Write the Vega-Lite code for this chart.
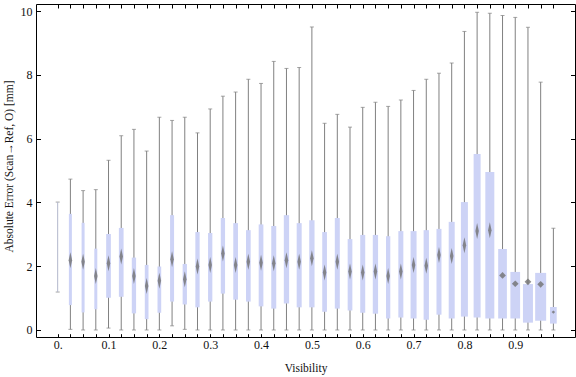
{
  "$schema": "https://vega.github.io/schema/vega-lite/v6.json",
  "width": 539,
  "height": 333,
  "autosize": {"type": "none"},
  "padding": {"left": 36, "top": 4, "right": 1, "bottom": 40},
  "background": "white",
  "config": {
    "view": {"stroke": "black", "strokeWidth": 1},
    "axis": {"grid": false, "domain": false, "ticks": true, "tickColor": "black", "tickWidth": 1, "labelFont": "Liberation Serif", "titleFont": "Liberation Serif", "labelColor": "#111", "titleColor": "#111", "labelFontSize": 12, "titleFontSize": 11.5, "titleFontWeight": "normal", "labelOverlap": false, "labelFlush": false}
  },
  "data": {
    "values": [
      {"v": 0, "lo": 1.19, "q1": null, "mid": null, "q3": null, "hi": 4.01, "n": 0},
      {"v": 0.025, "lo": 0.02, "q1": 0.78, "mid": 2.19, "q3": 3.64, "hi": 4.73, "n": 30},
      {"v": 0.05, "lo": 0, "q1": 0.55, "mid": 2.14, "q3": 3.36, "hi": 4.37, "n": 30},
      {"v": 0.075, "lo": 0, "q1": 0.65, "mid": 1.69, "q3": 2.55, "hi": 4.40, "n": 30},
      {"v": 0.1, "lo": 0.06, "q1": 1.01, "mid": 2.09, "q3": 3.01, "hi": 5.32, "n": 47},
      {"v": 0.125, "lo": 0, "q1": 1.04, "mid": 2.30, "q3": 3.20, "hi": 6.09, "n": 47},
      {"v": 0.15, "lo": 0, "q1": 0.52, "mid": 1.69, "q3": 2.27, "hi": 6.29, "n": 43},
      {"v": 0.175, "lo": 0, "q1": 0.34, "mid": 1.38, "q3": 2.04, "hi": 5.61, "n": 37},
      {"v": 0.2, "lo": 0, "q1": 0.54, "mid": 1.54, "q3": 1.99, "hi": 6.67, "n": 37},
      {"v": 0.225, "lo": 0.13, "q1": 0.89, "mid": 2.22, "q3": 3.60, "hi": 6.57, "n": 40},
      {"v": 0.25, "lo": 0.02, "q1": 0.80, "mid": 1.59, "q3": 2.07, "hi": 6.67, "n": 43},
      {"v": 0.275, "lo": 0, "q1": 0.71, "mid": 1.99, "q3": 3.07, "hi": 6.18, "n": 43},
      {"v": 0.3, "lo": 0, "q1": 0.89, "mid": 2.04, "q3": 3.04, "hi": 6.93, "n": 43},
      {"v": 0.325, "lo": 0, "q1": 1.14, "mid": 2.40, "q3": 3.51, "hi": 7.33, "n": 43},
      {"v": 0.35, "lo": 0, "q1": 0.95, "mid": 2.04, "q3": 3.35, "hi": 7.46, "n": 47},
      {"v": 0.375, "lo": 0, "q1": 0.89, "mid": 2.14, "q3": 3.13, "hi": 7.86, "n": 47},
      {"v": 0.4, "lo": 0, "q1": 0.74, "mid": 2.11, "q3": 3.31, "hi": 7.73, "n": 47},
      {"v": 0.425, "lo": 0, "q1": 0.67, "mid": 2.09, "q3": 3.26, "hi": 8.42, "n": 50},
      {"v": 0.45, "lo": 0, "q1": 0.83, "mid": 2.19, "q3": 3.60, "hi": 8.20, "n": 53},
      {"v": 0.475, "lo": 0, "q1": 0.71, "mid": 2.14, "q3": 3.35, "hi": 8.23, "n": 50},
      {"v": 0.5, "lo": 0, "q1": 0.71, "mid": 2.25, "q3": 3.44, "hi": 9.50, "n": 53},
      {"v": 0.525, "lo": 0, "q1": 0.57, "mid": 1.80, "q3": 3.07, "hi": 6.48, "n": 47},
      {"v": 0.55, "lo": 0, "q1": 0.67, "mid": 2.14, "q3": 3.51, "hi": 6.76, "n": 50},
      {"v": 0.575, "lo": 0, "q1": 0.61, "mid": 1.83, "q3": 2.85, "hi": 6.36, "n": 47},
      {"v": 0.6, "lo": 0, "q1": 0.54, "mid": 1.80, "q3": 2.98, "hi": 6.98, "n": 50},
      {"v": 0.625, "lo": 0, "q1": 0.51, "mid": 1.83, "q3": 2.98, "hi": 7.14, "n": 53},
      {"v": 0.65, "lo": 0, "q1": 0.36, "mid": 1.69, "q3": 2.94, "hi": 7.01, "n": 43},
      {"v": 0.675, "lo": 0, "q1": 0.39, "mid": 1.83, "q3": 3.10, "hi": 7.21, "n": 50},
      {"v": 0.7, "lo": 0, "q1": 0.36, "mid": 2.04, "q3": 3.10, "hi": 7.51, "n": 60},
      {"v": 0.725, "lo": 0, "q1": 0.32, "mid": 2.01, "q3": 3.13, "hi": 7.86, "n": 53},
      {"v": 0.75, "lo": 0, "q1": 0.48, "mid": 2.35, "q3": 3.17, "hi": 8.05, "n": 50},
      {"v": 0.775, "lo": 0, "q1": 0.36, "mid": 2.32, "q3": 3.39, "hi": 8.37, "n": 60},
      {"v": 0.8, "lo": 0, "q1": 0.42, "mid": 2.66, "q3": 4.01, "hi": 9.36, "n": 70},
      {"v": 0.825, "lo": 0, "q1": 0.39, "mid": 3.10, "q3": 5.52, "hi": 9.96, "n": 70},
      {"v": 0.85, "lo": 0, "q1": 0.36, "mid": 3.13, "q3": 4.95, "hi": 9.93, "n": 90},
      {"v": 0.875, "lo": 0, "q1": 0.36, "mid": 1.71, "q3": 2.54, "hi": 9.86, "n": 87},
      {"v": 0.9, "lo": 0, "q1": 0.36, "mid": 1.45, "q3": 1.82, "hi": 9.80, "n": 97},
      {"v": 0.925, "lo": 0, "q1": 0.23, "mid": 1.51, "q3": 1.44, "hi": 9.49, "n": 100},
      {"v": 0.95, "lo": 0, "q1": 0.29, "mid": 1.43, "q3": 1.79, "hi": 7.77, "n": 110},
      {"v": 0.975, "lo": 0, "q1": 0.20, "mid": 0.56, "q3": 0.72, "hi": 3.19, "n": 67}
    ]
  },
  "resolve": {"axis": {"x": "independent", "y": "independent"}},
  "layer": [
    {
      "mark": {"type": "tick", "orient": "horizontal", "size": 4, "thickness": 1, "color": "#808080"},
      "encoding": {
        "x": {"field": "v", "type": "quantitative", "scale": {"domain": [-0.0328, 1.0077], "nice": false, "zero": false},
          "axis": {"orient": "bottom", "title": "Visibility", "values": [0,0.025,0.05,0.075,0.1,0.125,0.15,0.175,0.2,0.225,0.25,0.275,0.3,0.325,0.35,0.375,0.4,0.425,0.45,0.475,0.5,0.525,0.55,0.575,0.6,0.625,0.65,0.675,0.7,0.725,0.75,0.775,0.8,0.825,0.85,0.875,0.9,0.925,0.95,0.975],
            "format": ".1f", "labelExpr": "abs(datum.value*10 - round(datum.value*10)) < 0.001 ? (datum.value == 0 ? '0.' : datum.label) : ''",
            "offset": -3.3, "tickSize": 3.3, "labelPadding": 2.5, "titleY": 37.3, "titleBaseline": "alphabetic"}},
        "y": {"field": "hi", "type": "quantitative", "scale": {"domain": [-0.22, 10.22], "nice": false, "zero": false},
          "axis": {"orient": "left", "title": "Absolute Error (Scan→Ref, O) [mm]", "values": [0,2,4,6,8,10], "format": "d",
            "offset": -4.5, "tickSize": 4.5, "labelPadding": 4,
            "titleX": -28.5, "titleY": 162, "titleBaseline": "alphabetic", "titleAngle": -90}}
      }
    },
    {
      "mark": {"type": "tick", "orient": "horizontal", "size": 4, "thickness": 1, "color": "#808080"},
      "encoding": {
        "x": {"field": "v", "type": "quantitative",
          "axis": {"orient": "top", "title": null, "values": [0,0.025,0.05,0.075,0.1,0.125,0.15,0.175,0.2,0.225,0.25,0.275,0.3,0.325,0.35,0.375,0.4,0.425,0.45,0.475,0.5,0.525,0.55,0.575,0.6,0.625,0.65,0.675,0.7,0.725,0.75,0.775,0.8,0.825,0.85,0.875,0.9,0.925,0.95,0.975], "labels": false, "tickSize": -4}},
        "y": {"field": "lo", "type": "quantitative",
          "axis": {"orient": "right", "title": null, "values": [0,2,4,6,8,10], "labels": false, "tickSize": -4.5}}
      }
    },
    {
      "mark": {"type": "rule", "strokeWidth": 1},
      "encoding": {
        "x": {"field": "v", "type": "quantitative", "axis": null},
        "y": {"field": "lo", "type": "quantitative", "axis": null},
        "y2": {"field": "hi"},
        "color": {"condition": {"test": "datum.v === 0", "value": "#b2b7cb"}, "value": "#808080"}
      }
    },
    {
      "mark": {"type": "bar", "color": "#cdd3f6"},
      "encoding": {
        "x": {"field": "v", "type": "quantitative", "axis": null},
        "y": {"field": "q1", "type": "quantitative", "axis": null},
        "y2": {"field": "q3"},
        "size": {"field": "n", "type": "quantitative", "scale": {"domain": [0, 110], "range": [0, 11], "zero": true}, "legend": null}
      }
    },
    {
      "mark": {"type": "point", "filled": true, "color": "#707070", "opacity": 0.8, "strokeWidth": 0},
      "encoding": {
        "x": {"field": "v", "type": "quantitative", "axis": null},
        "y": {"field": "mid", "type": "quantitative", "axis": null},
        "shape": {"condition": {"test": "datum.v > 0.86", "value": "diamond"}, "value": "M0,-1L0.22,0L0,1L-0.22,0Z"},
        "size": {"condition": [{"test": "datum.v > 0.96", "value": 12}, {"test": "datum.v > 0.86", "value": 45}], "value": 256}
      }
    }
  ]
}
